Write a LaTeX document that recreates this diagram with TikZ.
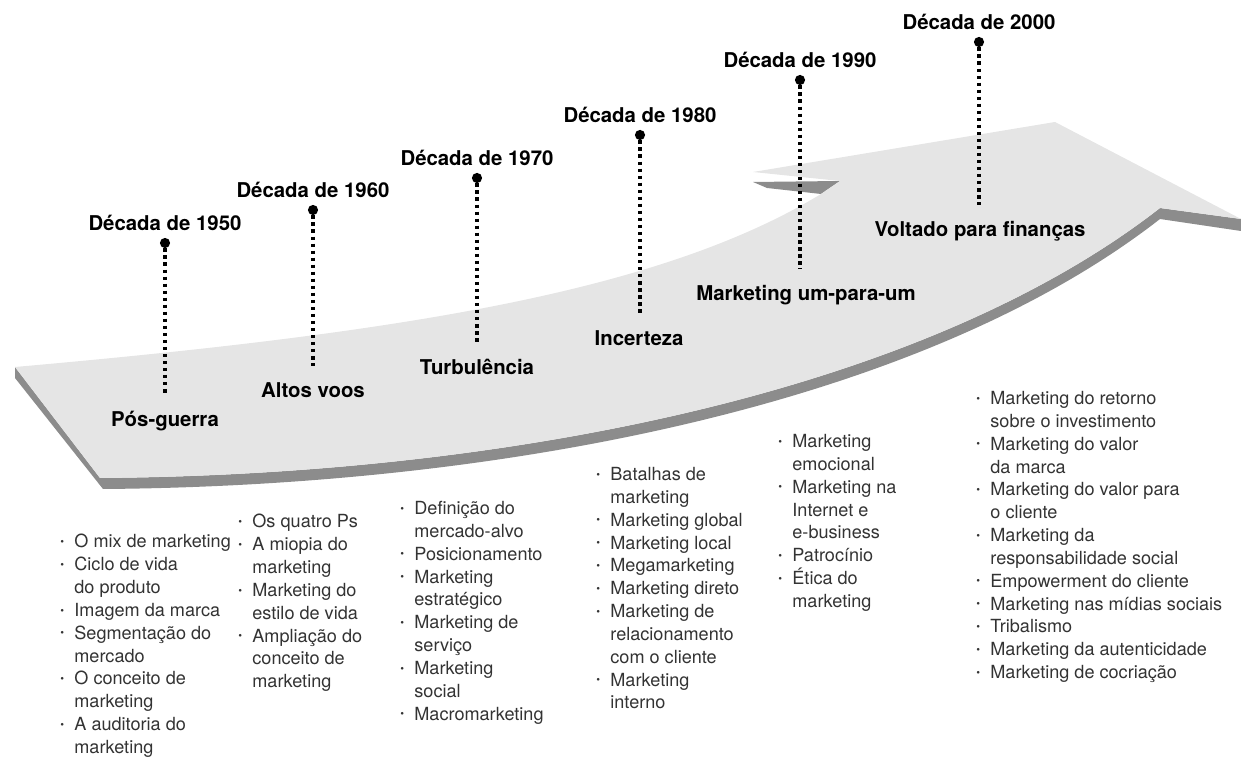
\documentclass[tikz,border=0pt]{standalone}
\usepackage{fontspec}
\setmainfont{TeX Gyre Heros}
\usepackage{graphicx}
\usetikzlibrary{positioning}
\newcommand{\bl}{\makebox[8pt][l]{\raisebox{.25ex}{\scalebox{.6}{\textbullet}}}}
\newcommand{\cn}{\hspace*{8pt}}
\tikzset{
  face/.style={fill=black!10},
  side/.style={fill=black!45},
  decade/.style={font=\fontsize{11.6}{14}\selectfont\bfseries, inner sep=0pt, text height=9pt, text depth=2.5pt},
  era/.style={decade},
  pin/.style={circle, fill=black, inner sep=0pt, minimum size=5.8pt},
  dots/.style={line width=2pt, dash pattern=on 2pt off 2pt, shorten >=9pt},
  items/.style={font=\fontsize{10.3}{13}\selectfont, align=left, anchor=north west, inner sep=0pt, text=black!80}
}
\begin{document}
\begin{tikzpicture}[x=0.02cm, y=-0.02cm]
\useasboundingbox (0,0) rectangle (1241,759);
% the arrow: its thickness first, the top face over it
\fill[side] (15,367) -- (15,378) -- (103,489)
   .. controls (500,486) and (920,406) .. (1160,219) -- (1241,231)
   -- (1241,219) -- (1160,208)
   .. controls (920,395) and (500,475) .. (100,478) -- cycle;
\fill[side] (753,182) -- (767,188) -- (821,194) -- (840,181) -- cycle;
\fill[face] (15,367) .. controls (400,333) and (660,292) .. (821,194)
   -- (840,181) -- (753,172) -- (1055,122) -- (1241,219) -- (1160,208)
   .. controls (920,395) and (500,475) .. (100,478) -- cycle;
% pins and decades
\node[pin] (p50) at (165,243) {};
\node[pin] (p60) at (313,210) {};
\node[pin] (p70) at (477,178) {};
\node[pin] (p80) at (640,135) {};
\node[pin] (p90) at (800,80) {};
\node[pin] (p00) at (979,42) {};
\node[decade, above=1.5pt of p50] (d50) {Década de 1950};
\node[decade, above=1.5pt of p60] (d60) {Década de 1960};
\node[decade, above=1.5pt of p70] (d70) {Década de 1970};
\node[decade, above=1.5pt of p80] (d80) {Década de 1980};
\node[decade, above=1.5pt of p90] (d90) {Década de 1990};
\node[decade, above=1.5pt of p00] (d00) {Década de 2000};
% eras on the arrow
\node[era] (e50) at (165,421) {Pós-guerra};
\node[era] (e60) at (313,392) {Altos voos};
\node[era] (e70) at (477,369) {Turbulência};
\node[era] (e80) at (639,340) {Incerteza};
\node[era] (e90) at (806,295) {Marketing um-para-um};
\node[era] (e00) at (980,231) {Voltado para finanças};
\draw[dots] (p50) -- (p50 |- e50.north);
\draw[dots] (p60) -- (p60 |- e60.north);
\draw[dots] (p70) -- (p70 |- e70.north);
\draw[dots] (p80) -- (p80 |- e80.north);
\draw[dots] (p90) -- (p90 |- e90.north);
\draw[dots] (p00) -- (p00 |- e00.north);
% lists
\node[items] (l50) at (60,534) {\bl O mix de marketing\\ \bl Ciclo de vida\\ \cn do produto\\ \bl Imagem da marca\\ \bl Segmentação do\\ \cn mercado\\ \bl O conceito de\\ \cn marketing\\ \bl A auditoria do\\ \cn marketing};
\node[items] (l60) at (238,514) {\bl Os quatro Ps\\ \bl A miopia do\\ \cn marketing\\ \bl Marketing do\\ \cn estilo de vida\\ \bl Ampliação do\\ \cn conceito de\\ \cn marketing};
\node[items] (l70) at (400,501) {\bl Definição do\\ \cn mercado-alvo\\ \bl Posicionamento\\ \bl Marketing\\ \cn estratégico\\ \bl Marketing de\\ \cn serviço\\ \bl Marketing\\ \cn social\\ \bl Macromarketing};
\node[items] (l80) at (596,467) {\bl Batalhas de\\ \cn marketing\\ \bl Marketing global\\ \bl Marketing local\\ \bl Megamarketing\\ \bl Marketing direto\\ \bl Marketing de\\ \cn relacionamento\\ \cn com o cliente\\ \bl Marketing\\ \cn interno};
\node[items] (l90) at (778,434) {\bl Marketing\\ \cn emocional\\ \bl Marketing na\\ \cn Internet e\\ \cn e-business\\ \bl Patrocínio\\ \bl Ética do\\ \cn marketing};
\node[items] (l00) at (976,391) {\bl Marketing do retorno\\ \cn sobre o investimento\\ \bl Marketing do valor\\ \cn da marca\\ \bl Marketing do valor para\\ \cn o cliente\\ \bl Marketing da\\ \cn responsabilidade social\\ \bl Empowerment do cliente\\ \bl Marketing nas mídias sociais\\ \bl Tribalismo\\ \bl Marketing da autenticidade\\ \bl Marketing de cocriação};
\end{tikzpicture}
\end{document}
